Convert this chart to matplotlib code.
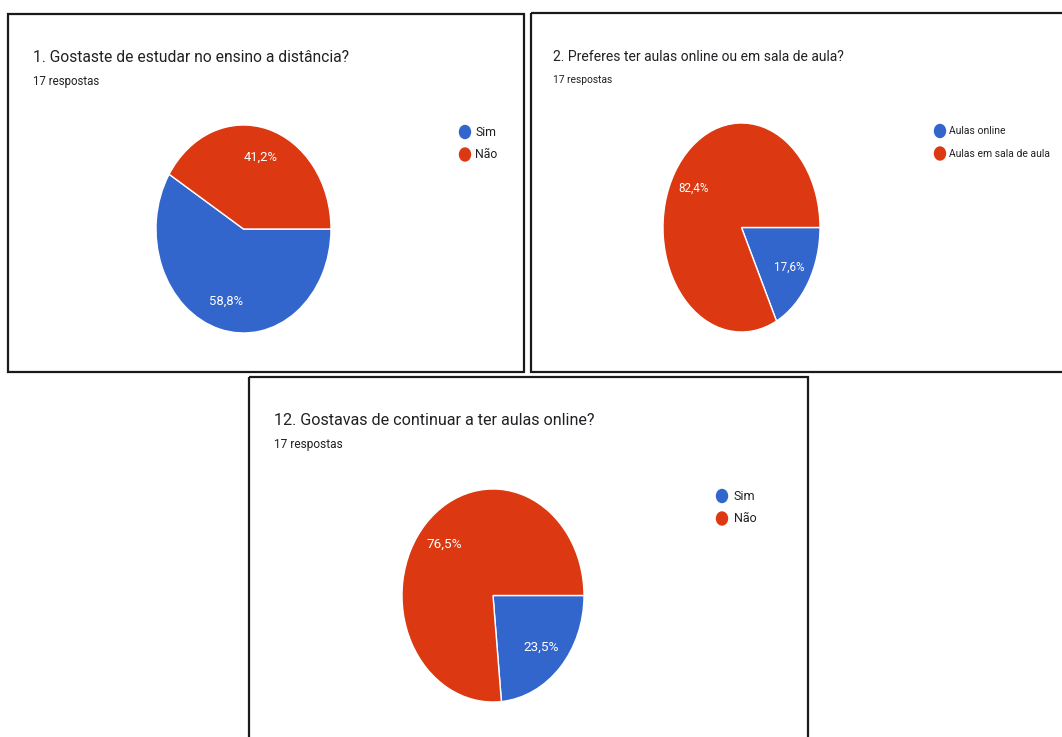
import matplotlib.pyplot as plt
from matplotlib.patches import Rectangle, Ellipse

# answers of the three questions (17 respostas each)
titles = ['1. Gostaste de estudar no ensino a distância?',
          '2. Preferes ter aulas online ou em sala de aula?',
          '12. Gostavas de continuar a ter aulas online?']
labels1 = ['Sim', 'Não']
counts1 = [10, 7]
labels2 = ['Aulas online', 'Aulas em sala de aula']
counts2 = [3, 14]
labels3 = ['Sim', 'Não']
counts3 = [4, 13]
subtitle = '17 respostas'

colors = ['#3366CC', '#DC3912']
fam = ['Roboto', 'DejaVu Sans']

W, H = 1062, 737
fig = plt.figure(figsize=(W / 100, H / 100), dpi=100)
bg = fig.add_axes([0, 0, 1, 1])
bg.set_xlim(0, W)
bg.set_ylim(H, 0)
bg.axis('off')

# panel layout in pixels (the screenshots are squashed by different amounts,
# so each panel gets its own font sizes)
panels = [
    dict(box=(8, 14, 516, 358), pie=(156, 125, 331, 333), tx=33, ty=62,
         sy=85, lx=465, ly=132, lt=10,
         fs=dict(title=11.25, sub=8.3, leg=8.8, pct=9.4)),
    dict(box=(531, 13, 560, 359), pie=(663, 123, 820, 332), tx=553, ty=61,
         sy=83, lx=940, ly=131, lt=9,
         fs=dict(title=10.0, sub=7.4, leg=7.5, pct=8.4)),
    dict(box=(249, 377, 559, 380), pie=(402, 489, 584, 702), tx=274, ty=425,
         sy=448, lx=722, ly=496, lt=12,
         fs=dict(title=11.6, sub=8.6, leg=9, pct=9.7)),
]
data = [(labels1, counts1), (labels2, counts2), (labels3, counts3)]


def pct(p):
    return ('%.1f%%' % p).replace('.', ',')


for p, title, (labels, counts) in zip(panels, titles, data):
    fs = p['fs']
    x, y, w, h = p['box']
    bg.add_patch(Rectangle((x, y), w, h, fill=False, edgecolor='#1a1a1a', lw=1.6))
    bg.text(p['tx'], p['ty'], title, fontsize=fs['title'], family=fam,
            color='#202124', va='baseline')
    bg.text(p['tx'], p['sy'], subtitle, fontsize=fs['sub'], family=fam,
            color='#202124', va='baseline')

    x0, y0, x1, y1 = p['pie']
    ax = fig.add_axes([x0 / W, 1 - y1 / H, (x1 - x0) / W, (y1 - y0) / H])
    ax.pie(counts, colors=colors, startangle=0, counterclock=False,
           autopct=pct, pctdistance=0.72, radius=1,
           wedgeprops=dict(edgecolor='white', linewidth=1),
           textprops=dict(color='white', fontsize=fs['pct'], family=fam))
    ax.set_aspect('auto')
    ax.set_xlim(-1, 1)
    ax.set_ylim(-1, 1)

    # legend like Google Forms
    for i, (lab, c) in enumerate(zip(labels, colors)):
        yy = p['ly'] + i * 22.5
        bg.add_patch(Ellipse((p['lx'], yy), 11, 13, color=c))
        bg.text(p['lx'] + p['lt'], yy, lab, fontsize=fs['leg'], family=fam,
                color='#202124', va='center')

fig.savefig('out.png', dpi=100, facecolor='white')
